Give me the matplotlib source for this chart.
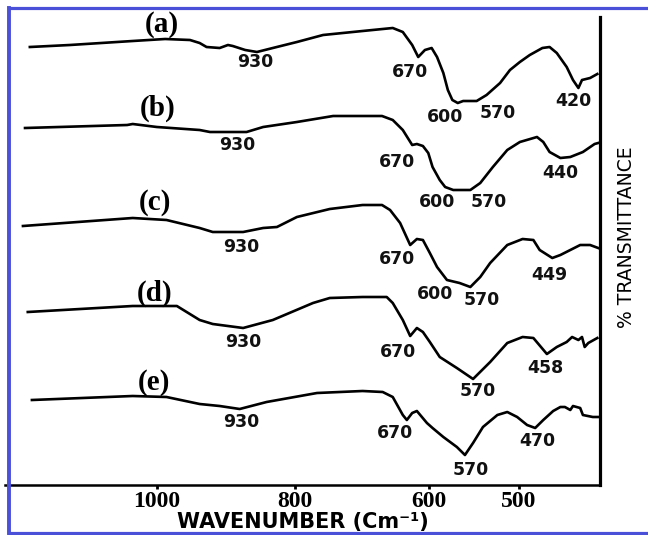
import numpy as np
import matplotlib
matplotlib.use("Agg")
import matplotlib.pyplot as plt
from matplotlib.lines import Line2D

# ---------------- data (wavenumber in cm^-1, transmittance in arbitrary offset units) -------------
wn_a = [1184, 1126, 1035, 988, 952, 938, 928, 909, 897, 890, 872, 855, 832, 797, 758, 699, 654, 639,
        625, 616, 606, 597, 591, 584, 579, 574, 568, 562, 547, 536, 521, 510, 499, 488, 474, 466, 458,
        447, 440, 434, 430, 421, 413]
t_a = [438, 440, 444, 446, 445, 442, 438, 437, 440, 439, 435, 433, 437, 443, 450, 454, 457, 453,
       440, 428, 435, 437, 428, 412, 395, 385, 382, 384, 384, 390, 402, 415, 423, 430, 437, 438, 432,
       418, 405, 397, 405, 407, 411]

wn_b = [1191, 1043, 1035, 1000, 938, 923, 870, 846, 797, 743, 688, 670, 654, 639, 625, 618, 609, 601,
        596, 588, 582, 573, 554, 543, 529, 513, 499, 480, 473, 466, 454, 443, 429, 416, 412]
t_b = [357, 360, 361, 358, 355, 353, 353, 358, 363, 369, 369, 369, 365, 355, 340, 341, 339, 332,
       318, 305, 298, 295, 295, 302, 318, 335, 343, 348, 343, 333, 327, 328, 333, 341, 342]

wn_c = [1194, 1035, 986, 938, 919, 875, 846, 826, 797, 748, 699, 670, 658, 643, 628, 618, 609, 599,
        591, 580, 566, 554, 543, 532, 513, 496, 484, 477, 463, 454, 432, 421, 412]
t_c = [259, 267, 265, 257, 253, 253, 257, 258, 268, 276, 280, 280, 275, 262, 240, 246, 245, 232,
       218, 205, 202, 198, 208, 222, 240, 246, 245, 235, 227, 230, 240, 240, 237]

wn_d = [1187, 1035, 971, 938, 919, 875, 832, 773, 748, 699, 663, 654, 639, 628, 618, 609, 599, 588,
        569, 551, 532, 513, 496, 484, 469, 458, 447, 441, 434, 430, 427, 423, 413]
t_d = [173, 179, 179, 165, 161, 157, 165, 182, 187, 188, 188, 182, 165, 149, 157, 153, 143, 128,
       117, 106, 123, 142, 148, 147, 131, 138, 143, 148, 145, 148, 138, 142, 147]

wn_e = [1181, 1035, 986, 938, 909, 880, 841, 767, 699, 669, 654, 639, 633, 625, 618, 603, 596, 584,
        569, 560, 551, 540, 524, 513, 502, 491, 482, 473, 462, 454, 449, 443, 440, 432, 429, 418, 412]
t_e = [85, 89, 88, 81, 79, 76, 83, 92, 94, 93, 88, 70, 65, 72, 74, 62, 57, 48,
       38, 30, 42, 58, 70, 73, 68, 60, 57, 65, 74, 78, 78, 75, 79, 77, 70, 68, 68]

sample_names = ["(a)", "(b)", "(c)", "(d)", "(e)"]
sample_name_pos = [(993, 461), (999, 377), (1003, 282), (1003, 192), (1004, 102)]

band_texts = ["930", "670", "600", "570", "420",
              "930", "670", "600", "570", "440",
              "930", "670", "600", "570", "449",
              "930", "670", "570", "458",
              "930", "670", "570", "470"]
band_pos = [(858, 423), (628, 413), (582, 368), (524, 372), (440, 384),
            (883, 340), (648, 323), (591, 283), (534, 283), (454, 312),
            (877, 238), (648, 226), (593, 191), (541, 185), (466, 210),
            (875, 143), (646, 133), (546, 94), (471, 117),
            (877, 63), (651, 52), (554, 15), (480, 44)]

xticks = [1000, 800, 600, 500]

# piecewise-linear wavenumber axis (the original axis is not uniform)
scale_wn = np.array([1300.0, 1000.0, 800.0, 600.0, 500.0, 300.0])
scale_pos = np.array([-50.0, 157.0, 295.0, 429.0, 519.0, 699.0])


def fwd(w):
    # increasing function of wavenumber: minus the horizontal position
    w = np.asarray(w, dtype=float)
    return -np.interp(-w, -scale_wn, scale_pos)


def inv(q):
    q = np.asarray(q, dtype=float)
    return -np.interp(-q, scale_pos, -scale_wn)


W, H = 648, 535
fig = plt.figure(figsize=(W / 100, H / 100), dpi=100)
ax = fig.add_axes([5 / W, (H - 485) / H, 595 / W, 468 / H])
ax.set_xscale('function', functions=(fwd, inv))

for wn, t in [(wn_a, t_a), (wn_b, t_b), (wn_c, t_c), (wn_d, t_d), (wn_e, t_e)]:
    ax.plot(wn, t, color='black', lw=1.9, solid_joinstyle='round')

ax.set_xlim(1220, 410)
ax.set_ylim(0, 468)

for name, (x, y) in zip(sample_names, sample_name_pos):
    ax.text(x, y, name, ha='center', va='center', fontsize=21, fontweight='bold',
            family='Liberation Serif')

for s, (x, y) in zip(band_texts, band_pos):
    ax.text(x, y, s, ha='center', va='center', fontsize=12.5, fontweight='bold',
            family='DejaVu Sans', color='#111111')

ax.spines['top'].set_visible(False)
ax.spines['left'].set_visible(False)
ax.spines['bottom'].set_linewidth(1.8)
ax.spines['right'].set_linewidth(2.3)
ax.set_yticks([])
ax.set_xticks(xticks)
ax.set_xticklabels([str(v) for v in xticks], fontsize=17, fontweight='bold',
                   family='Liberation Serif')
ax.xaxis.set_minor_locator(matplotlib.ticker.NullLocator())
ax.tick_params(axis='x', direction='out', length=3, width=2, pad=1.5)
ax.set_xlabel("WAVENUMBER (Cm\u207b\u00b9)", fontsize=15, fontweight='bold',
              family='DejaVu Sans', labelpad=0)
ax.patch.set_alpha(0)

fig.text(627 / W, 1 - 237 / H, "% TRANSMITTANCE", rotation=90, ha='center', va='center',
         fontsize=13.5, family=['Liberation Sans Narrow', 'DejaVu Sans'], color='black')

# blue frame around the picture
blue = '#4a50d8'
fig.add_artist(Line2D([9 / W, 1.0], [1 - 8 / H, 1 - 8 / H], color=blue, lw=2.3))
fig.add_artist(Line2D([9 / W, 9 / W], [1 - 8 / H, 1 - 533 / H], color=blue, lw=2.8))
fig.add_artist(Line2D([9 / W, 1.0], [1 - 533 / H, 1 - 533 / H], color=blue, lw=2.3))

fig.savefig("out.png", dpi=100)
